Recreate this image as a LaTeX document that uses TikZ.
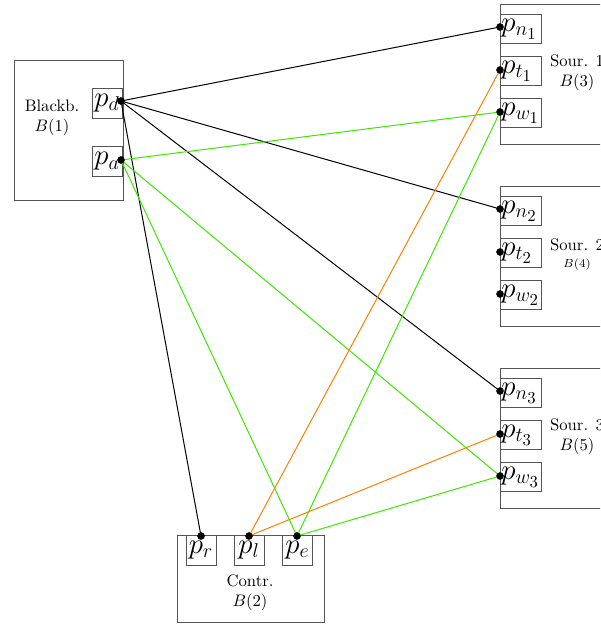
\documentclass[tikz,border=0pt]{standalone}
\usetikzlibrary{positioning}
\definecolor{lgreen}{RGB}{60,232,0}
\definecolor{lorange}{RGB}{255,128,0}
\definecolor{boxgray}{RGB}{85,85,85}
\begin{document}
\begin{tikzpicture}[x=0.6pt,y=-0.6pt,
  bigbox/.style={draw=boxgray,line width=0.5pt,rectangle,inner sep=0pt},
  portbox/.style={draw=boxgray,line width=0.5pt,rectangle,inner sep=0pt,font=\LARGE},
  srcport/.style={portbox,minimum width=24.6pt,minimum height=17.4pt,anchor=west,text width=23.4pt,align=left,inner xsep=0.6pt},
  ctlport/.style={portbox,minimum width=18pt,minimum height=18pt},
  dot/.style={circle,fill=black,inner sep=0pt,minimum size=4.4pt},
  conn/.style={line width=0.6pt},
  lab/.style={align=center,inner sep=0pt,font=\normalsize}]
\useasboundingbox (0,0) rectangle (600,625);
\clip (0,0) rectangle (600,625);
% Blackboard
\node[bigbox,minimum width=65.4pt,minimum height=84pt] (bb) at (68.5,130) {};
\node[lab] (bbl) at (52,118) {Blackb.\\$B(1)$};
\node[ctlport] (pdbox) at (107,103) {$p_d$};
\node[ctlport] (pabox) at (107,161.5) {$p_a$};
\node[dot] (pd) at (121,101) {};
\node[dot] (pa) at (121,160) {};
% Control
\node[bigbox,minimum width=88.2pt,minimum height=52.2pt] (ctl) at (250.5,578.5) {};
\node[lab] (ctll) at (250,593) {Contr.\\$B(2)$};
\node[ctlport] (prbox) at (201,550) {$p_r$};
\node[ctlport] (plbox) at (249,550) {$p_l$};
\node[ctlport] (pebox) at (297.5,550) {$p_e$};
\node[dot] (pr) at (201,536) {};
\node[dot] (pl) at (249,536) {};
\node[dot] (pe) at (297,536) {};
% Sources
\foreach \i/\yt in {1/4,2/186,3/368}{
  \node[bigbox,minimum width=84pt,minimum height=84pt,anchor=north west] (s\i) at (500,\yt) {};
  \node[srcport] (pn\i box) at (500,\yt+25) {$p_{n_\i}$};
  \node[srcport] (pt\i box) at (500,\yt+67) {$p_{t_\i}$};
  \node[srcport] (pw\i box) at (500,\yt+109) {$p_{w_\i}$};
  \node[dot] (pn\i) at (500,\yt+23) {};
  \node[dot] (pt\i) at (500,\yt+66) {};
  \node[dot] (pw\i) at (500,\yt+108) {};
}
\node[lab] (s1l) at (577,73) {Sour. 1\\$B(3)$};
\node[lab,anchor=north] (s2l) at (577,238) {Sour. 2};
\node[lab,font=\scriptsize,anchor=north] (s2b) at (577,258) {$B(4)$};
\node[lab] (s3l) at (577,437) {Sour. 3\\$B(5)$};
% connectors
\draw[conn] (pd.center) -- (pn1.center);
\draw[conn] (pd.center) -- (pn2.center);
\draw[conn] (pd.center) -- (pn3.center);
\draw[conn] (pd.center) -- (pr.center);
\draw[conn,lgreen] (pa.center) -- (pw1.center);
\draw[conn,lgreen] (pa.center) -- (pe.center);
\draw[conn,lgreen] (pa.center) -- (pw3.center);
\draw[conn,lgreen] (pe.center) -- (pw1.center);
\draw[conn,lgreen] (pe.center) -- (pw3.center);
\draw[conn,lorange] (pl.center) -- (pt1.center);
\draw[conn,lorange] (pl.center) -- (pt3.center);
\foreach \n in {pd,pa,pr,pl,pe,pn1,pt1,pw1,pn2,pt2,pw2,pn3,pt3,pw3}{\node[dot] at (\n) {};}
\end{tikzpicture}
\end{document}
